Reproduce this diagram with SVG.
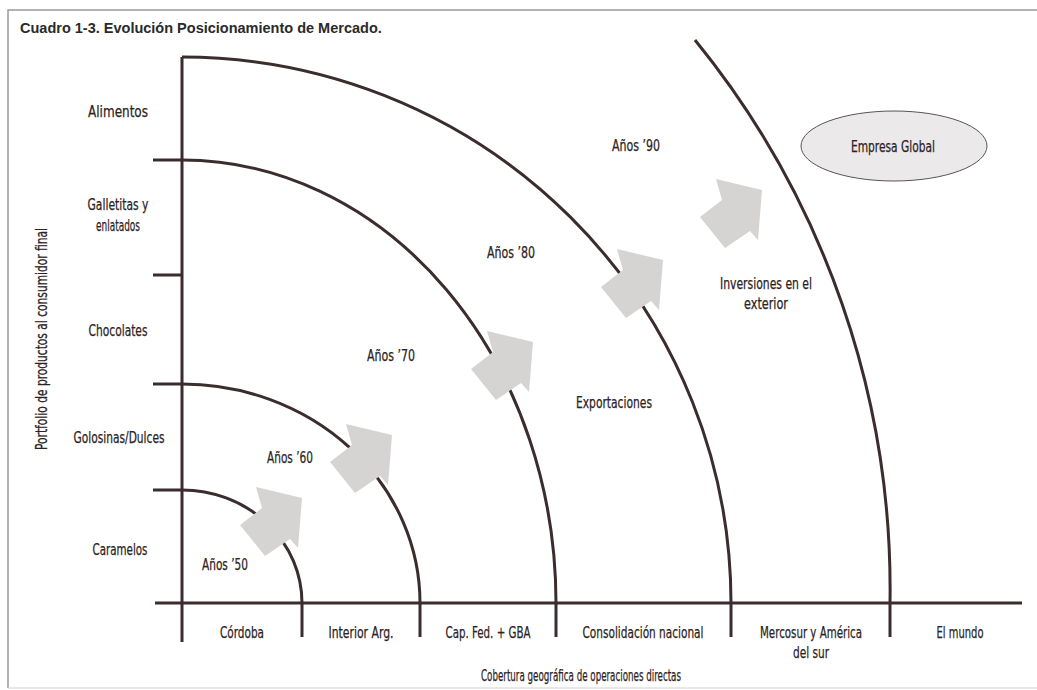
<svg xmlns="http://www.w3.org/2000/svg" width="1037" height="690" viewBox="0 0 1037 690">
<style>
.t{font-family:"Liberation Sans Narrow","DejaVu Sans Condensed","Liberation Sans",sans-serif;font-size:16.5px;fill:#2b2222;stroke:#2b2222;stroke-width:0.25;text-anchor:middle}
.ln{fill:none;stroke:#3b2d2d;stroke-width:3}
.fr{fill:none;stroke:#9a9a9a;stroke-width:1.5}
</style>
<defs>
<path id="arr" d="M-46,-11 L0,0 L-4,50 L-12,41 L-37,58 L-62,27 L-40,10 Z" fill="#d6d3d3"/>
</defs>
<rect width="1037" height="690" fill="#ffffff"/>
<g id="frame">
<path class="fr" d="M8,688 L8,10 L1037,10"/>
<path d="M8,688 L1037,688" stroke="#d0d0d0" stroke-width="1"/>
</g>
<text id="title" x="20" y="33" font-family="Liberation Sans,Arial,sans-serif" font-weight="bold" font-size="14.5" fill="#2a2a2a">Cuadro 1-3. Evolución Posicionamiento de Mercado.</text>
<g id="connectors">
<path class="ln" d="M182,57 L182,642"/>
<path class="ln" d="M155,603 L1022,603"/>
<path class="ln" d="M153,160 L182,160 M153,275 L182,275 M153,384 L182,384 M153,490 L182,490"/>
<path class="ln" d="M182,490 A120,113 0 0 1 302,603 L302,637"/>
<path class="ln" d="M182,384 A238,219 0 0 1 420,603 L420,637"/>
<path class="ln" d="M182,160 A374,443 0 0 1 556,603 L556,637"/>
<path class="ln" d="M182,57 A549,546 0 0 1 731,603 L731,637"/>
<path class="ln" d="M695,40 A870,870 0 0 1 890,603 L890,637"/>
</g>
<g id="arrows">
<use href="#arr" x="302" y="498"/>
<use href="#arr" x="392" y="435"/>
<use href="#arr" x="533" y="342"/>
<use href="#arr" x="663" y="260"/>
<use href="#arr" x="762" y="190"/>
</g>
<g id="y-labels">
<g id="alimentos"><text class="t" x="118" y="117" textLength="60" lengthAdjust="spacingAndGlyphs">Alimentos</text></g>
<g id="galletitas"><text class="t" x="118" y="210" textLength="61" lengthAdjust="spacingAndGlyphs">Galletitas y</text><text class="t" x="118" y="231" textLength="44" lengthAdjust="spacingAndGlyphs">enlatados</text></g>
<g id="chocolates"><text class="t" x="118" y="336" textLength="59" lengthAdjust="spacingAndGlyphs">Chocolates</text></g>
<g id="golosinas"><text class="t" x="119" y="443" textLength="91" lengthAdjust="spacingAndGlyphs">Golosinas/Dulces</text></g>
<g id="caramelos"><text class="t" x="120" y="555" textLength="55" lengthAdjust="spacingAndGlyphs">Caramelos</text></g>
<g id="y-title"><text class="t" transform="translate(47,339) rotate(-90)" x="0" y="0" textLength="222" lengthAdjust="spacingAndGlyphs">Portfolio de productos al consumidor final</text></g>
</g>
<g id="x-labels">
<g id="cordoba"><text class="t" x="242" y="638" textLength="44" lengthAdjust="spacingAndGlyphs">Córdoba</text></g>
<g id="interior"><text class="t" x="361" y="638" textLength="65" lengthAdjust="spacingAndGlyphs">Interior Arg.</text></g>
<g id="capfed"><text class="t" x="488" y="638" textLength="85" lengthAdjust="spacingAndGlyphs">Cap. Fed. + GBA</text></g>
<g id="consolidacion"><text class="t" x="643" y="638" textLength="121" lengthAdjust="spacingAndGlyphs">Consolidación nacional</text></g>
<g id="mercosur"><text class="t" x="811" y="638" textLength="102" lengthAdjust="spacingAndGlyphs">Mercosur y América</text><text class="t" x="811" y="658" textLength="36" lengthAdjust="spacingAndGlyphs">del sur</text></g>
<g id="mundo"><text class="t" x="960" y="638" textLength="47" lengthAdjust="spacingAndGlyphs">El mundo</text></g>
<g id="x-title"><text class="t" x="581" y="681" textLength="200" lengthAdjust="spacingAndGlyphs">Cobertura geográfica de operaciones directas</text></g>
</g>
<g id="eras">
<g id="anos50"><text class="t" x="225" y="570" textLength="46" lengthAdjust="spacingAndGlyphs">Años ’50</text></g>
<g id="anos60"><text class="t" x="290" y="463" textLength="46" lengthAdjust="spacingAndGlyphs">Años ’60</text></g>
<g id="anos70"><text class="t" x="391" y="361" textLength="48" lengthAdjust="spacingAndGlyphs">Años ’70</text></g>
<g id="anos80"><text class="t" x="511" y="258" textLength="48" lengthAdjust="spacingAndGlyphs">Años ’80</text></g>
<g id="anos90"><text class="t" x="636" y="151" textLength="48" lengthAdjust="spacingAndGlyphs">Años ’90</text></g>
<g id="exportaciones"><text class="t" x="614" y="408" textLength="76" lengthAdjust="spacingAndGlyphs">Exportaciones</text></g>
<g id="inversiones"><text class="t" x="766" y="289" textLength="92" lengthAdjust="spacingAndGlyphs">Inversiones en el</text><text class="t" x="766" y="309" textLength="44" lengthAdjust="spacingAndGlyphs">exterior</text></g>
<g id="empresa-global"><ellipse cx="894" cy="146" rx="93" ry="35" fill="#ebe9e9" stroke="#555" stroke-width="1"/><text class="t" x="893" y="152" textLength="84" lengthAdjust="spacingAndGlyphs">Empresa Global</text></g>
</g>
</svg>
